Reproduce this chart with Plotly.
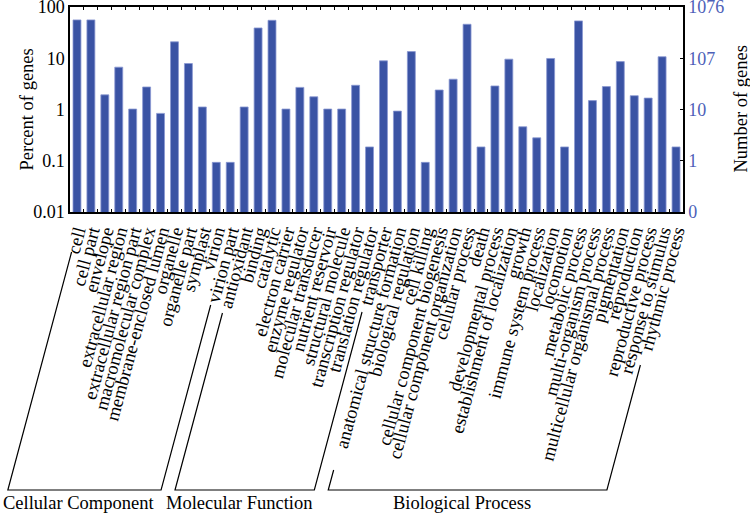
import math
import plotly.graph_objects as go

# GO categories and percent of genes (total 1076 annotated genes)
cc_terms = ["cell", "cell part", "envelope", "extracellular region",
            "extracellular region part", "macromolecular complex",
            "membrane-enclosed lumen", "organelle", "organelle part",
            "symplast", "virion", "virion part"]
cc_pct = [56, 56, 1.93, 6.7, 1.02, 2.75, 0.84, 20.9, 7.9, 1.12, 0.093, 0.093]

mf_terms = ["antioxidant", "binding", "catalytic", "electron carrier",
            "enzyme regulator", "molecular transducer", "nutrient reservoir",
            "structural molecule", "transcription regulator",
            "translation regulator", "transporter"]
mf_pct = [1.12, 39, 55, 1.02, 2.7, 1.77, 1.02, 1.02, 2.97, 0.186, 8.9]

bp_terms = ["anatomical structure formation", "biological regulation",
            "cell killing", "cellular component biogenesis",
            "cellular component organization", "cellular process", "death",
            "developmental process", "establishment of localization", "growth",
            "immune system process", "localization", "locomotion",
            "metabolic process", "multi-organism process",
            "multicellular organismal process", "pigmentation", "reproduction",
            "reproductive process", "response to stimulus", "rhythmic process"]
bp_pct = [0.93, 13.5, 0.093, 2.4, 3.9, 46, 0.186, 2.88, 9.6, 0.46, 0.28, 9.9,
          0.186, 53.5, 1.49, 2.8, 8.6, 1.86, 1.67, 10.7, 0.186]

groups = ["Cellular Component", "Molecular Function", "Biological Process"]

pct_ticks = [0.01, 0.1, 1, 10, 100]
pct_labels = ["0.01", "0.1", "1", "10", "100"]
gene_labels = ["0", "1", "10", "107", "1076"]

terms = cc_terms + mf_terms + bp_terms
pct = cc_pct + mf_pct + bp_pct

# ---- geometry (pixels) ----
W, H = 750, 516
L, R, T, B = 70, 67, 7, 304
pw = W - L - R
ph = H - T - B
SERIF = "Liberation Serif, Times New Roman, serif"
BAR = "#3a53a4"
BLUE = "#4d5fb8"

fig = go.Figure()
fig.add_trace(go.Bar(
    x=terms, y=pct,
    marker=dict(color=BAR, line=dict(color="#8a98d2", width=0.8)),
    showlegend=False,
))
# invisible trace so the right axis is drawn
fig.add_trace(go.Scatter(x=terms[:1], y=[1], yaxis="y2", mode="lines",
                         showlegend=False, hoverinfo="skip"))

fig.update_layout(
    width=W, height=H,
    margin=dict(l=L, r=R, t=T, b=B),
    plot_bgcolor="white", paper_bgcolor="white",
    bargap=0.43,
    font=dict(family=SERIF, color="black"),
    xaxis=dict(
        type="category", range=[-0.5, len(terms) - 0.5],
        tickmode="array", tickvals=terms, ticktext=terms,
        tickson="boundaries", ticks="inside", ticklen=3,
        tickcolor="black", showline=True, linecolor="black", linewidth=1.5,
        mirror="ticks", tickangle=-75, tickfont=dict(size=18.5),
        automargin=False, showgrid=False,
    ),
    yaxis=dict(
        type="log", range=[-2, 2], tickvals=pct_ticks, ticktext=pct_labels,
        ticks="", showline=True, linecolor="black", linewidth=1.5,
        showgrid=False, zeroline=False, tickfont=dict(size=18),
        ticklabeloverflow="allow", automargin=False,
    ),
    yaxis2=dict(
        type="log", range=[-2, 2], overlaying="y", side="right",
        tickvals=pct_ticks, ticktext=gene_labels, ticks="inside", ticklen=3,
        tickcolor="black", showline=True, linecolor="black", linewidth=1.5,
        showgrid=False, zeroline=False, tickfont=dict(size=18, color=BLUE),
        ticklabeloverflow="allow", automargin=False,
    ),
)


def px_x(px):
    return (px - L) / pw


def px_y(py):
    return (H - B - py) / ph


# axis titles
for xpx, title in [(26, "Percent of genes"), (740, "Number of genes")]:
    fig.add_annotation(x=px_x(xpx), y=px_y(T + ph / 2), xref="paper",
                       yref="paper", text=title, showarrow=False,
                       textangle=-90, xanchor="center", yanchor="middle",
                       font=dict(size=18.5))

# slanted group brackets below the tick labels
slot = pw / len(terms)
k = math.tan(math.radians(15))
y0, ybot = 232, 490
sizes = [len(cc_terms), len(mf_terms), len(bp_terms)]
starts = [(252, 305), (313, 312), (470, 365)]


def x_at(i, y):
    return L + (i + 0.5) * slot - k * (y - y0)


first = 0
for name, n, (ya, yb) in zip(groups, sizes, starts):
    last = first + n - 1
    pts = [(x_at(first, ya), ya), (x_at(first, ybot), ybot),
           (x_at(last, ybot), ybot), (x_at(last, yb), yb)]
    path = "M " + " L ".join(f"{px_x(x):.4f},{px_y(y):.4f}" for x, y in pts)
    fig.add_shape(type="path", path=path, xref="paper", yref="paper",
                  line=dict(color="black", width=1.2))
    cx = (pts[1][0] + pts[2][0]) / 2 - 6
    fig.add_annotation(x=px_x(cx), y=px_y(503), xref="paper", yref="paper",
                       text=name, showarrow=False, font=dict(size=18.5),
                       xanchor="center", yanchor="middle")
    first = last + 1

# page body has a default 8px margin; drop it so the chart sits at 0,0
fig.write_html("out.html", config={"displayModeBar": False},
               post_script="document.body.style.margin='0px';")
